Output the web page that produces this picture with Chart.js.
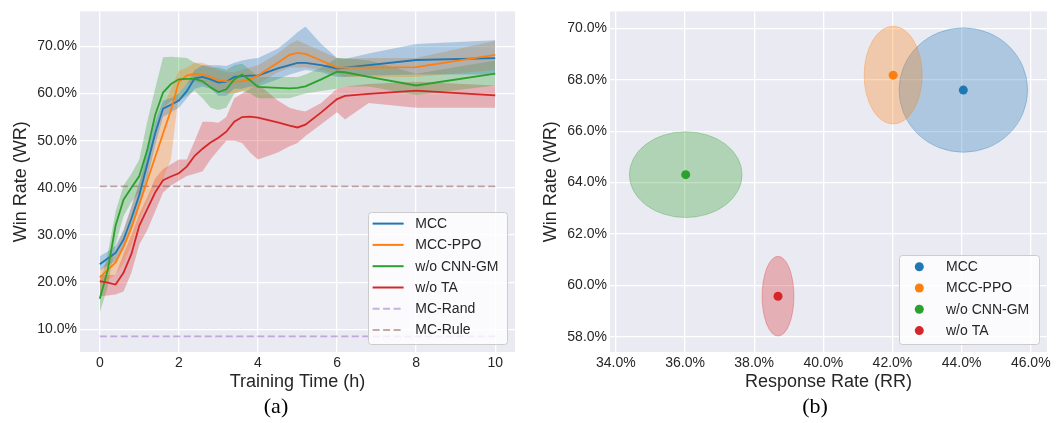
<!DOCTYPE html>
<html><head><meta charset="utf-8">
<script src="https://cdn.jsdelivr.net/npm/chart.js@4.4.0/dist/chart.umd.min.js"></script>
<style>
html,body{margin:0;padding:0;background:#fff;width:1056px;height:423px;overflow:hidden;}
#wa{position:absolute;left:0;top:0;width:530px;height:423px;}
#wb{position:absolute;left:530px;top:0;width:526px;height:423px;}
</style></head><body>
<div id="wa"><canvas id="ca"></canvas></div>
<div id="wb"><canvas id="cb"></canvas></div>
<script>
// ---------- data ----------
const seriesNames = ['MCC', 'MCC-PPO', 'w/o CNN-GM', 'w/o TA'];
const seriesColors = ['#1f77b4', '#ff7f0e', '#2ca02c', '#d62728'];
const baselineNames = ['MC-Rand', 'MC-Rule'];
const baselineColors = ['#9467bd', '#8c564b'];
const baselineValues = [8.5, 40.3];
const baselineSpan = [0, 10];

const times = [0,0.2,0.4,0.6,0.8,1.0,1.2,1.4,1.6,1.8,2.0,2.2,2.4,2.6,2.8,3.0,3.2,3.4,3.6,3.8,4.0,4.5,4.8,5.0,5.2,5.6,6.0,6.2,6.8,8.0,10.0];

const mccMean = [23.8,25.0,26.2,29.0,33.5,38.5,45.0,51.5,56.8,57.6,58.5,60.5,63.2,63.5,63.0,62.3,62.5,63.5,63.7,63.8,63.8,65.3,66.0,66.5,66.5,66.0,65.3,65.5,66.0,67.1,67.5];
const mccLow  = [22.5,23.5,24.5,27.0,31.5,36.0,42.0,49.0,55.0,56.0,57.0,59.0,61.0,61.5,61.0,59.5,59.5,61.0,61.0,61.5,61.5,63.0,64.0,64.5,65.0,64.5,63.5,63.5,63.8,64.0,64.0];
const mccHigh = [25.5,26.5,27.8,31.0,36.0,41.0,48.0,54.0,58.5,59.0,60.0,62.0,65.0,66.0,66.0,66.0,65.8,66.5,67.0,67.3,67.5,69.5,71.5,73.0,74.2,70.5,67.5,67.3,68.5,70.5,71.3];

const ppoMean = [21.0,22.6,24.2,27.5,31.5,36.5,41.5,46.5,51.5,56.5,62.5,63.8,64.2,64.0,63.5,62.8,62.6,62.5,62.6,63.0,63.8,66.5,68.2,68.6,68.4,67.0,65.5,65.5,65.5,65.6,68.2];
const ppoLow  = [19.5,20.5,21.5,24.0,28.0,33.0,37.0,40.0,42.0,46.0,60.0,62.0,62.5,62.0,61.5,60.5,60.0,60.0,60.5,61.0,62.0,64.5,65.5,65.5,65.5,65.0,64.0,63.5,63.5,63.5,65.0];
const ppoHigh = [22.5,24.5,27.0,31.0,36.0,41.0,46.0,51.5,57.0,61.0,64.8,65.5,66.5,66.5,65.8,65.0,64.5,64.5,65.0,65.5,66.0,68.5,70.5,71.3,70.5,69.0,67.5,67.3,67.5,67.5,71.2];

const cnnMean = [16.5,22.5,32.0,37.5,40.0,42.5,48.0,55.4,60.2,62.0,63.0,63.1,63.1,62.6,61.3,60.3,60.9,63.0,64.0,62.8,61.4,61.2,61.1,61.2,61.5,63.0,64.6,64.5,63.5,61.7,64.2];
const cnnLow  = [13.5,19.0,28.0,34.0,37.0,39.0,44.0,51.0,57.0,58.5,58.5,59.5,60.5,59.0,57.0,56.5,57.0,60.0,60.5,60.0,59.0,59.0,59.0,59.5,60.0,60.5,61.0,61.5,61.5,59.7,61.7];
const cnnHigh = [19.5,26.0,35.0,40.5,43.0,46.0,54.0,61.0,67.7,67.8,67.7,67.5,66.5,66.0,65.5,65.5,65.0,66.0,66.3,65.0,63.5,63.5,63.5,63.5,64.0,65.5,67.5,67.5,67.0,64.2,67.0];

const taMean = [20.2,19.9,19.5,22.0,26.0,32.0,35.5,39.0,41.6,42.4,43.1,44.5,46.8,48.3,49.6,50.6,51.9,54.0,55.0,55.1,54.9,53.9,53.2,52.8,53.4,56.0,58.8,59.5,59.9,60.6,59.6];
const taLow  = [17.0,17.2,17.4,18.0,22.0,28.0,31.0,35.0,39.0,40.5,41.5,42.5,43.0,43.5,46.0,48.0,50.0,50.0,49.5,47.5,46.0,47.5,48.8,49.5,51.0,53.5,56.0,54.5,58.0,57.0,57.0];
const taHigh = [21.5,21.5,21.5,26.0,30.0,34.5,38.0,42.0,44.0,45.0,46.0,46.0,50.0,54.0,54.0,53.8,55.0,59.0,60.0,61.0,62.0,58.5,57.0,56.5,56.2,58.0,61.0,61.5,62.0,62.5,61.7];

const xTicksA = [0, 2, 4, 6, 8, 10];
const yTicksA = [10, 20, 30, 40, 50, 60, 70];

// panel (b): response rate vs win rate with spread ellipses
const rrMean = [44.05, 42.02, 36.02, 38.69];
const wrMean = [67.60, 68.18, 64.31, 59.58];
const rrSpread = [1.86, 0.84, 1.63, 0.46];
const wrSpread = [2.42, 1.90, 1.67, 1.55];
const xTicksB = [34, 36, 38, 40, 42, 44, 46];
const yTicksB = [58, 60, 62, 64, 66, 68, 70];

// ---------- helpers ----------
const FONT = '"Liberation Sans", Arial, sans-serif';
const TXT = '#262626';
function rgba(hex, a) {
  const n = parseInt(hex.slice(1), 16);
  return 'rgba(' + ((n >> 16) & 255) + ',' + ((n >> 8) & 255) + ',' + (n & 255) + ',' + a + ')';
}
const bgPlugin = {
  id: 'bg',
  beforeDraw(chart) {
    const a = chart.chartArea, ctx = chart.ctx;
    ctx.save(); ctx.fillStyle = '#EAEAF2';
    ctx.fillRect(a.left, a.top, a.right - a.left, a.bottom - a.top);
    ctx.restore();
  }
};
function roundRect(ctx, x, y, w, h, r) {
  ctx.beginPath();
  ctx.moveTo(x + r, y); ctx.lineTo(x + w - r, y); ctx.arcTo(x + w, y, x + w, y + r, r);
  ctx.lineTo(x + w, y + h - r); ctx.arcTo(x + w, y + h, x + w - r, y + h, r);
  ctx.lineTo(x + r, y + h); ctx.arcTo(x, y + h, x, y + h - r, r);
  ctx.lineTo(x, y + r); ctx.arcTo(x, y, x + r, y, r); ctx.closePath();
}
function makeLegendPlugin(items, L) {
  return {
    id: 'customLegend',
    afterDraw(chart) {
      const ctx = chart.ctx, a = chart.chartArea;
      const x0 = a.right - L.margin - L.width, y0 = a.bottom - L.margin - L.height;
      ctx.save();
      roundRect(ctx, x0 + 0.5, y0 + 0.5, L.width, L.height, 3);
      ctx.fillStyle = 'rgba(255,255,255,0.8)'; ctx.fill();
      ctx.strokeStyle = '#cccccc'; ctx.lineWidth = 1; ctx.stroke();
      ctx.font = '14px ' + FONT; ctx.textBaseline = 'middle'; ctx.textAlign = 'left';
      items.forEach((it, i) => {
        const cy = y0 + L.firstRow + i * L.rowGap;
        if (it.kind === 'dot') {
          ctx.beginPath(); ctx.fillStyle = it.color;
          ctx.arc(x0 + L.dotX, cy, 4.5, 0, Math.PI * 2); ctx.fill();
        } else {
          ctx.beginPath(); ctx.strokeStyle = it.color; ctx.lineWidth = it.width;
          ctx.setLineDash(it.dash || []);
          ctx.moveTo(x0 + L.sx0, cy); ctx.lineTo(x0 + L.sx1, cy); ctx.stroke();
          ctx.setLineDash([]);
        }
        ctx.fillStyle = TXT; ctx.fillText(it.label, x0 + L.textX, cy + 0.5);
      });
      ctx.restore();
    }
  };
}
function captionPlugin(text, x) {
  return {
    id: 'caption',
    afterDraw(chart) {
      const ctx = chart.ctx;
      ctx.save(); ctx.fillStyle = '#000'; ctx.font = '22px "Liberation Serif", "Times New Roman", serif';
      ctx.textAlign = 'center'; ctx.textBaseline = 'alphabetic';
      ctx.fillText(text, x, 412.5); ctx.restore();
    }
  };
}
function axisCommon(ticks, fmt, extra) {
  return Object.assign({
    type: 'linear',
    afterBuildTicks: s => { s.ticks = ticks.map(v => ({ value: v })); },
    grid: { color: '#ffffff', lineWidth: 1.3, drawTicks: false },
    border: { display: false },
    ticks: { color: TXT, font: { family: FONT, size: 14 }, callback: fmt }
  }, extra);
}

// ---------- chart (a) ----------
const means = [mccMean, ppoMean, cnnMean, taMean];
const lows = [mccLow, ppoLow, cnnLow, taLow];
const highs = [mccHigh, ppoHigh, cnnHigh, taHigh];
const dsA = [];
seriesNames.forEach((name, i) => {
  dsA.push({ label: name + ' low', data: times.map((t, j) => ({ x: t, y: lows[i][j] })),
    borderWidth: 0, pointRadius: 0, fill: false, order: 30 });
  dsA.push({ label: name + ' high', data: times.map((t, j) => ({ x: t, y: highs[i][j] })),
    borderWidth: 0, pointRadius: 0, fill: '-1', backgroundColor: rgba(seriesColors[i], 0.3), order: 30 });
});
baselineNames.forEach((name, i) => {
  dsA.push({ label: name, data: baselineSpan.map(t => ({ x: t, y: baselineValues[i] })),
    borderColor: rgba(baselineColors[i], 0.5), borderWidth: 1.8, borderDash: [7, 3.5],
    pointRadius: 0, fill: false, order: 20 });
});
seriesNames.forEach((name, i) => {
  dsA.push({ label: name, data: times.map((t, j) => ({ x: t, y: means[i][j] })),
    borderColor: seriesColors[i], borderWidth: 1.8, pointRadius: 0, fill: false, order: 10 - i });
});

const legendA = seriesNames.map((n, i) => ({ label: n, color: seriesColors[i], width: 2 }))
  .concat(baselineNames.map((n, i) => ({ label: n, color: rgba(baselineColors[i], 0.5), width: 2, dash: [7, 3.5] })));

new Chart(document.getElementById('ca'), {
  type: 'line',
  data: { datasets: dsA },
  options: {
    responsive: true, maintainAspectRatio: false, animation: false, devicePixelRatio: 1,
    layout: { padding: { top: 7, right: 15, bottom: 30, left: 0 } },
    plugins: { legend: { display: false }, tooltip: { enabled: false }, filler: { drawTime: 'beforeDatasetsDraw' } },
    scales: {
      x: axisCommon(xTicksA, v => String(v), {
        min: -0.5, max: 10.5,
        afterFit: s => { s.height = 41; },
        title: { display: true, text: 'Training Time (h)', color: TXT, font: { family: FONT, size: 18 }, padding: { top: 0, bottom: 0 } }
      }),
      y: axisCommon(yTicksA, v => v.toFixed(1) + '%', {
        min: 5.2, max: 77.4,
        afterFit: s => { s.width = 80; },
        title: { display: true, text: 'Win Rate (WR)', color: TXT, font: { family: FONT, size: 18 }, padding: { top: 10, bottom: 0 } }
      })
    }
  },
  plugins: [bgPlugin, makeLegendPlugin(legendA, { margin: 8, width: 139, height: 132, firstRow: 11.6, rowGap: 21.3, sx0: 4.6, sx1: 35.6, textX: 47.3 }), captionPlugin('(a)', 276)]
});
// fix axis tick padding after creation defaults
// ---------- chart (b) ----------
const ellipsePlugin = {
  id: 'ellipses',
  beforeDatasetsDraw(chart) {
    const ctx = chart.ctx, xs = chart.scales.x, ys = chart.scales.y;
    ctx.save();
    rrMean.forEach((m, i) => {
      const cx = xs.getPixelForValue(m), cy = ys.getPixelForValue(wrMean[i]);
      const rx = Math.abs(xs.getPixelForValue(m + rrSpread[i]) - cx);
      const ry = Math.abs(ys.getPixelForValue(wrMean[i] + wrSpread[i]) - cy);
      ctx.beginPath(); ctx.ellipse(cx, cy, rx, ry, 0, 0, Math.PI * 2);
      ctx.fillStyle = rgba(seriesColors[i], 0.3); ctx.fill();
      ctx.strokeStyle = rgba(seriesColors[i], 0.3); ctx.lineWidth = 1; ctx.stroke();
    });
    ctx.restore();
  }
};
const dsB = seriesNames.map((name, i) => ({
  label: name, data: [{ x: rrMean[i], y: wrMean[i] }],
  backgroundColor: seriesColors[i], borderWidth: 0, pointRadius: 4.5
}));
const legendB = seriesNames.map((n, i) => ({ label: n, color: seriesColors[i], kind: 'dot' }));

new Chart(document.getElementById('cb'), {
  type: 'scatter',
  data: { datasets: dsB },
  options: {
    responsive: true, maintainAspectRatio: false, animation: false, devicePixelRatio: 1,
    layout: { padding: { top: 7, right: 9, bottom: 30, left: 0 } },
    plugins: { legend: { display: false }, tooltip: { enabled: false } },
    scales: {
      x: axisCommon(xTicksB, v => v.toFixed(1) + '%', {
        min: 33.83, max: 46.47,
        afterFit: s => { s.height = 41; },
        title: { display: true, text: 'Response Rate (RR)', color: TXT, font: { family: FONT, size: 18 }, padding: { top: 0, bottom: 0 } }
      }),
      y: axisCommon(yTicksB, v => v.toFixed(1) + '%', {
        min: 57.41, max: 70.66,
        afterFit: s => { s.width = 80; },
        title: { display: true, text: 'Win Rate (WR)', color: TXT, font: { family: FONT, size: 18 }, padding: { top: 10, bottom: 0 } }
      })
    }
  },
  plugins: [bgPlugin, ellipsePlugin, makeLegendPlugin(legendB, { margin: 8, width: 140, height: 89, firstRow: 11.7, rowGap: 21.3, dotX: 20.3, textX: 47 }), captionPlugin('(b)', 285)]
});
</script>
</body></html>
